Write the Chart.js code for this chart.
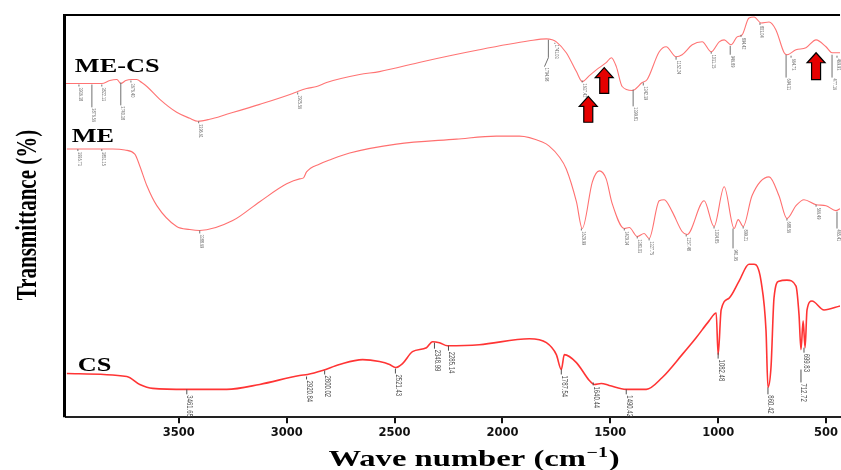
<!DOCTYPE html>
<html>
<head>
<meta charset="utf-8">
<script src="https://cdn.jsdelivr.net/npm/chart.js@4.4.1/dist/chart.umd.min.js"></script>
<style>
  html, body { margin: 0; padding: 0; background: #fff; overflow: hidden; }
  #wrap { width: 841px; height: 470px; }
</style>
</head>
<body>
<div id="wrap"><canvas id="myChart" width="841" height="470"></canvas></div>
<script>
// FTIR spectra: wave number (cm-1) and transmittance (offset, arbitrary units)
const mecsWave = [4023, 3968, 3903, 3857, 3820, 3787, 3769, 3746, 3718, 3695, 3672, 3648, 3588, 3510, 3449, 3412, 3357, 3278, 3125, 2972,
    2949, 2908, 2861, 2815, 2662, 2570, 2371, 2107, 1875, 1796, 1769, 1750, 1704, 1657, 1630, 1597, 1551, 1519, 1495, 1472,
    1445, 1398, 1352, 1329, 1273, 1241, 1195, 1167, 1120, 1074, 1032, 995, 972, 940, 912, 889, 857, 833, 801, 764,
    732, 694, 681, 639, 593, 546, 500, 472, 435];
const mecsT = [336, 336, 336, 336, 339, 340, 336, 339, 340, 340, 337, 333, 320, 307, 301, 298, 300, 305, 315, 326,
    328, 331, 333, 337, 345, 348, 358, 370, 379, 381, 380, 378, 367, 348, 338, 344, 352, 357, 362, 353,
    333, 329, 337, 340, 368, 373, 363, 365, 375, 378, 368, 378, 380, 375, 383, 385, 402, 403, 397, 398,
    390, 367, 365, 370, 372, 380, 373, 367, 367];

const meWave = [4019, 3912, 3806, 3750, 3704, 3681, 3648, 3602, 3510, 3449, 3403, 3250, 3125, 3000, 2940, 2922, 2908, 2847, 2801, 2708,
    2491, 2213, 2028, 1921, 1815, 1783, 1736, 1704, 1657, 1630, 1583, 1551, 1519, 1491, 1435, 1412, 1375, 1343, 1320, 1273,
    1250, 1213, 1167, 1144, 1065, 1019, 972, 926, 907, 884, 843, 764, 718, 681, 639, 602, 546, 500, 454, 435];
const meT = [270, 270, 270, 269, 265, 253, 233, 213, 192, 189, 188, 198, 217, 235, 240, 241, 247, 255, 259, 266,
    275, 280, 283, 283, 277, 273, 262, 250, 217, 190, 237, 248, 240, 215, 190, 191, 182, 185, 180, 218,
    219, 207, 187, 184, 218, 192, 232, 190, 199, 192, 223, 242, 223, 200, 213, 219, 214, 213, 208, 210];

const csWave = [4019, 3741, 3681, 3621, 3463, 3278, 3125, 2940, 2903, 2834, 2755, 2648, 2570, 2523, 2496, 2463, 2417, 2352, 2324, 2292,
    2255, 2107, 1875, 1796, 1750, 1727, 1713, 1657, 1597, 1574, 1542, 1505, 1426, 1333, 1259, 1167, 1102, 1042, 1009, 1000,
    986, 949, 903, 857, 833, 819, 801, 778, 769, 755, 741, 718, 681, 639, 625, 616, 606, 597, 588, 565,
    509, 435];
const csT = [44, 41, 33, 29, 28, 28, 33, 42, 43, 47, 53, 58, 56, 53, 50, 54, 66, 70, 76, 75,
    72, 73, 79, 75, 63, 48, 63, 55, 37, 33, 34, 32, 28, 28, 40, 63, 80, 97, 105, 63,
    108, 120, 137, 154, 154, 152, 137, 87, 30, 50, 120, 137, 138, 132, 103, 68, 97, 70, 108, 117,
    108, 112];

const tickWaves = [3500, 3000, 2500, 2000, 1500, 1000, 500];

// peak marks: [wave, tick start, tick end, label, (bend to wave, bend to T)]
const mecsPeaks = [
    [3963, 335, 333, '3936.38'], [3903, 335, 312, '3876.56'], [3857, 335, 333, '3822.13'],
    [3769, 337, 314, '3740.38'], [3722, 339, 337, '3676.40'], [3408, 298, 296, '3396.61'],
    [2949, 327, 325, '2925.56'], [1787, 380, 362, '1794.98', 1805, 353], [1757, 377, 376, '1741.03'],
    [1630, 339, 337, '1637.42'], [1394, 330, 313, '1399.81'], [1347, 337, 334, '1342.39'],
    [1195, 363, 360, '1152.24'], [1032, 368, 366, '1031.15'], [944, 374, 365, '946.89'],
    [894, 385, 383, '894.42'], [806, 397, 395, '803.04'], [685, 365, 342, '694.31'],
    [662, 364, 362, '664.73'], [472, 365, 342, '477.16'], [449, 364, 362, '469.93']
];
const mePeaks = [
    [3968, 270, 268, '3936.73'], [3857, 270, 268, '3851.15'], [3403, 188, 185, '3388.69'],
    [1634, 190, 188, '1629.99'], [1435, 190, 188, '1429.34'], [1375, 182, 180, '1383.03'],
    [1320, 180, 178, '1327.75'], [1148, 184, 182, '1157.48'], [1019, 192, 190, '1034.85'],
    [931, 190, 170, '941.95'], [884, 192, 190, '899.21'], [681, 200, 198, '688.56'],
    [546, 214, 212, '566.49'], [449, 207, 190, '465.41']
];
const csPeaks = [
    [3463, 28, 23, '3461.65'], [2908, 41, 38, '2920.84'], [2824, 47, 43, '2800.02'],
    [2496, 49, 44, '2521.43'], [2315, 75, 69, '2348.99'], [2250, 72, 67, '2285.14'],
    [1727, 48, 43, '1787.54'], [1579, 35, 32, '1640.44'], [1426, 28, 23, '1490.42'],
    [1000, 65, 59, '1082.48'], [769, 30, 23, '860.42'], [616, 48, 35, '712.72'],
    [602, 70, 65, '699.83']
];

// red arrows: [wave, tip T, tail T]
const arrows = [[1602, 323, 297], [1528, 352, 326], [546, 367, 340]];

const seriesNames = ['ME-CS', 'ME', 'CS'];
const nameWave = [3982, 3996, 3968];
const nameT = [348, 277, 47];

const toPoints = (xs, ys) => xs.map((v, i) => ({ x: v, y: ys[i] }));

const serif = '"Liberation Serif", "Times New Roman", serif';
const STRETCH = 1.42; // the figure is drawn horizontally stretched

function drawPeaks(ctx, xs, ys, list, size, color) {
    ctx.save();
    ctx.strokeStyle = color;
    ctx.fillStyle = color;
    ctx.lineWidth = 1;
    ctx.font = size + 'px "Liberation Sans", Arial, sans-serif';
    ctx.textBaseline = 'alphabetic';
    ctx.textAlign = 'left';
    for (const p of list) {
        const px = xs.getPixelForValue(p[0]);
        const p1 = ys.getPixelForValue(p[1]);
        let lx = px;
        let ly = ys.getPixelForValue(p[2]);
        ctx.beginPath();
        ctx.moveTo(px, p1);
        ctx.lineTo(px, ly);
        if (p.length > 4) {
            lx = xs.getPixelForValue(p[4]);
            ly = ys.getPixelForValue(p[5]);
            ctx.lineTo(lx, ly);
        }
        ctx.stroke();
        ctx.save();
        ctx.translate(lx + 0.5, ly + 1);
        ctx.scale(STRETCH, 1);
        ctx.rotate(Math.PI / 2);
        ctx.fillText(p[3], 0, 0);
        ctx.restore();
    }
    ctx.restore();
}

const decor = {
    id: 'decor',
    afterDatasetsDraw(chart) {
        const { ctx, chartArea: a, scales: { x, y } } = chart;
        ctx.save();

        // frame (left and top)
        ctx.strokeStyle = '#000';
        ctx.lineWidth = 3;
        ctx.beginPath();
        ctx.moveTo(a.left - 1.5, a.top - 1);
        ctx.lineTo(a.left - 1.5, a.bottom);
        ctx.stroke();
        ctx.lineWidth = 2;
        ctx.beginPath();
        ctx.moveTo(a.left - 3, a.top);
        ctx.lineTo(a.right, a.top);
        ctx.stroke();

        // peak marks
        drawPeaks(ctx, x, y, mecsPeaks, 3.8, '#707070');
        drawPeaks(ctx, x, y, mePeaks, 3.8, '#707070');
        drawPeaks(ctx, x, y, csPeaks, 6, '#505050');

        // arrows
        ctx.fillStyle = '#e60000';
        ctx.strokeStyle = '#000';
        ctx.lineWidth = 1.2;
        for (const ar of arrows) {
            const cx = x.getPixelForValue(ar[0]);
            const ty = y.getPixelForValue(ar[1]);
            const by = y.getPixelForValue(ar[2]);
            ctx.beginPath();
            ctx.moveTo(cx, ty);
            ctx.lineTo(cx + 9, ty + 10);
            ctx.lineTo(cx + 4.5, ty + 10);
            ctx.lineTo(cx + 4.5, by);
            ctx.lineTo(cx - 4.5, by);
            ctx.lineTo(cx - 4.5, ty + 10);
            ctx.lineTo(cx - 9, ty + 10);
            ctx.closePath();
            ctx.fill();
            ctx.stroke();
        }

        // series names
        ctx.fillStyle = '#000';
        ctx.font = 'bold 18.5px ' + serif;
        ctx.textAlign = 'left';
        ctx.textBaseline = 'alphabetic';
        seriesNames.forEach((n, i) => {
            ctx.save();
            ctx.translate(x.getPixelForValue(nameWave[i]), y.getPixelForValue(nameT[i]));
            ctx.scale(STRETCH, 1);
            ctx.fillText(n, 0, 0);
            ctx.restore();
        });

        // y title
        ctx.save();
        ctx.translate(28, 215);
        ctx.scale(STRETCH, 1);
        ctx.rotate(-Math.PI / 2);
        ctx.font = 'bold 21px ' + serif;
        ctx.textAlign = 'center';
        ctx.textBaseline = 'middle';
        ctx.fillText('Transmittance (%)', 0, 0);
        ctx.restore();

        // x title
        ctx.save();
        const big = 'bold 23px ' + serif;
        const small = 'bold 14px ' + serif;
        ctx.font = big;
        const t1 = 'Wave number (cm';
        const w1 = ctx.measureText(t1).width;
        const w3 = ctx.measureText(')').width;
        ctx.font = small;
        const w2 = ctx.measureText('\u22121').width + 1;
        const total = w1 + w2 + w3;
        ctx.translate(474, 466);
        ctx.scale(STRETCH, 1);
        ctx.textAlign = 'left';
        ctx.textBaseline = 'alphabetic';
        let cx = -total / 2;
        ctx.font = big;
        ctx.fillText(t1, cx, 0);
        cx += w1;
        ctx.font = small;
        ctx.fillText('\u22121', cx + 0.5, -9);
        cx += w2;
        ctx.font = big;
        ctx.fillText(')', cx, 0);
        ctx.restore();

        ctx.restore();
    }
};

const ctx = document.getElementById('myChart').getContext('2d');
const myChart = new Chart(ctx, {
    type: 'line',
    data: {
        datasets: [{
            label: 'ME-CS',
            data: toPoints(mecsWave, mecsT),
            borderColor: '#ff7474',
            borderWidth: 1.1
        }, {
            label: 'ME',
            data: toPoints(meWave, meT),
            borderColor: '#ff7070',
            borderWidth: 1.1
        }, {
            label: 'CS',
            data: toPoints(csWave, csT),
            borderColor: '#ff3434',
            borderWidth: 1.6
        }]
    },
    options: {
        responsive: false,
        animation: false,
        cubicInterpolationMode: 'monotone',
        elements: { point: { radius: 0 } },
        layout: { padding: { left: 66, top: 15, right: 0, bottom: 27 } },
        plugins: {
            legend: { display: false },
            tooltip: { enabled: false }
        },
        scales: {
            x: {
                type: 'linear',
                reverse: true,
                min: 435,
                max: 4023,
                afterBuildTicks: s => { s.ticks = tickWaves.map(v => ({ value: v })); },
                ticks: {
                    autoSkip: false,
                    maxRotation: 0,
                    padding: 3,
                    color: '#111',
                    font: { family: 'DejaVu Sans', weight: 'bold', size: 11.5 },
                    callback: v => String(v)
                },
                grid: { drawOnChartArea: false, drawTicks: true, tickLength: 6, color: '#111', lineWidth: 2 },
                border: { display: true, color: '#222', width: 2 }
            },
            y: {
                display: false,
                min: 0,
                max: 405
            }
        }
    },
    plugins: [decor]
});
</script>
</body>
</html>
